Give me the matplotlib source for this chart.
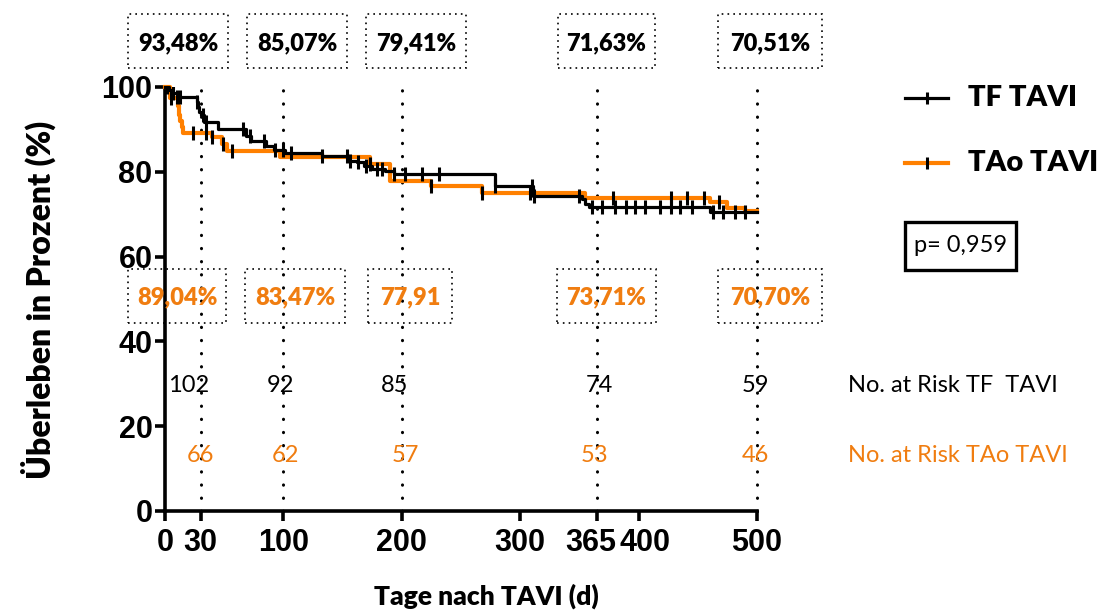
import numpy as np
import matplotlib
matplotlib.use('Agg')
import matplotlib.pyplot as plt
import matplotlib.transforms as mtransforms
from matplotlib.patches import Rectangle
from matplotlib.lines import Line2D

# Kaplan-Meier Überleben nach TAVI, TF vs. TAo
tf_t = [0, 3, 6, 10, 27, 28, 29, 30, 33, 45, 68, 73, 85, 92, 101, 133, 155, 162, 168, 175, 186, 193, 279, 311, 352, 355, 358, 460]
tf_s = [100, 99.2, 98.5, 97.6, 96.5, 95.3, 94.2, 93.48, 91.8, 90.1, 88.5, 87.3, 86.1, 85.07, 84.5, 83.8, 82.6, 82.2, 81.4, 80.7, 80.2, 79.41, 76.7, 74.4, 73.5, 72.5, 71.63, 70.51]
tf_cens = [2, 7, 10, 13, 27, 32, 35, 66, 72, 84, 93, 100, 106, 133, 154, 156, 163, 170, 179, 183, 193,
           203, 217, 231, 279, 310, 312, 350, 361, 369, 380, 389, 397, 405, 418, 427, 435, 445, 463, 471, 481, 490]

tao_t = [0, 4, 11, 12, 13, 14, 15, 40, 48, 52, 97, 173, 190, 225, 268, 355, 460, 475, 490]
tao_s = [100, 97.4, 95.5, 93.5, 92.0, 90.5, 89.04, 88.2, 86.6, 85.0, 83.47, 81.9, 77.91, 76.7, 75.1, 73.71, 72.8, 71.5, 70.70]
tao_cens = [5, 24, 35, 40, 49, 57, 173, 225, 268, 308, 378, 427, 441, 455, 468]

milestones = [30, 100, 200, 365, 500]
tf_lbl = ['93,48%', '85,07%', '79,41%', '71,63%', '70,51%']
tao_lbl = ['89,04%', '83,47%', '77,91', '73,71%', '70,70%']
risk_tf = [102, 92, 85, 74, 59]
risk_tao = [66, 62, 57, 53, 46]

xticks = [0, 30, 100, 200, 300, 365, 400, 500]
yticks = [0, 20, 40, 60, 80, 100]

ORANGE = '#FF8000'
ORANGE_TXT = '#F07D10'
W, H = 1106, 613
tick_font = ['Liberation Sans', 'DejaVu Sans']
lab_font = ['Lato', 'DejaVu Sans']


def fx(px):
    return px / W


def fy(py):
    return 1 - py / H


def km_value(t, s, x):
    idx = np.searchsorted(t, x, side='right') - 1
    return np.asarray(s)[idx]


fig = plt.figure(figsize=(W / 100, H / 100), dpi=100)
ax = fig.add_axes([fx(165), fy(511), fx(757) - fx(165), fy(87) - fy(511)])

# Kurven
ax.step(tf_t + [500], tf_s + [tf_s[-1]], where='post', color='black', lw=2.3, zorder=4, clip_on=False)
ax.step(tao_t + [500], tao_s + [tao_s[-1]], where='post', color=ORANGE, lw=3.0, zorder=3, clip_on=False)
ax.plot(tf_cens, km_value(tf_t, tf_s, tf_cens), ls='none', marker='|', ms=10, mew=2.2, color='black', zorder=5)
ax.plot(tao_cens, km_value(tao_t, tao_s, tao_cens), ls='none', marker='|', ms=10, mew=2.2, color='black', zorder=5)

# gepunktete Linien an den Zeitpunkten
ax.vlines(milestones, 0, 100, colors='black', lw=2.2, linestyles=(0, (0.1, 4.2)),
          capstyle='round', zorder=2, clip_on=False)

ax.set_xlim(0, 500)
ax.set_ylim(0, 100)
ax.set_xticks(xticks)
ax.set_yticks(yticks)
for sp in ['top', 'right']:
    ax.spines[sp].set_visible(False)
for sp in ['left', 'bottom']:
    ax.spines[sp].set_linewidth(2.6)
ax.tick_params(width=2.6, length=7)
ax.tick_params(axis='y', pad=2)
ax.tick_params(axis='x', pad=5)
for lab in ax.get_xticklabels() + ax.get_yticklabels():
    lab.set_fontfamily(tick_font)
    lab.set_fontweight('bold')
    lab.set_fontsize(22)

# 365 und 400 liegen dicht beieinander -> etwas auseinanderschieben
xlabs = ax.get_xticklabels()
for lab, dx in [(xlabs[5], -6), (xlabs[6], 6)]:
    lab.set_transform(lab.get_transform() + mtransforms.ScaledTranslation(dx / 100, 0, fig.dpi_scale_trans))

fig.text(fx(486), fy(596), 'Tage nach TAVI (d)', ha='center', va='center',
         fontsize=19, fontweight='heavy', family=lab_font)
fig.text(fx(38), fy(300), 'Überleben in Prozent (%)', ha='center', va='center', rotation=90,
         fontsize=23, fontweight='heavy', family=lab_font)

# Kästchen mit Überlebensraten
top_boxes = [(128, 228), (247, 347), (366, 466), (558, 655), (718, 822)]
bot_boxes = [(128, 226), (245, 345), (368, 452), (557, 656), (718, 822)]
for (x0, x1), txt in zip(top_boxes, tf_lbl):
    fig.add_artist(Rectangle((fx(x0), fy(68)), fx(x1) - fx(x0), fy(14) - fy(68), transform=fig.transFigure,
                             fill=False, ec='black', lw=1.2, ls=(0, (1, 2.5))))
    fig.text(fx((x0 + x1) / 2), fy(43), txt, ha='center', va='center', fontsize=17,
             fontweight='heavy', family=lab_font)
for (x0, x1), txt in zip(bot_boxes, tao_lbl):
    fig.add_artist(Rectangle((fx(x0), fy(323)), fx(x1) - fx(x0), fy(269) - fy(323), transform=fig.transFigure,
                             fill=False, ec='black', lw=1.2, ls=(0, (1, 2.5)), zorder=1))
    fig.text(fx((x0 + x1) / 2), fy(297), txt, ha='center', va='center', fontsize=17,
             fontweight='heavy', family=lab_font, color=ORANGE_TXT)

# Patienten unter Risiko
tf_px = [189, 280, 395, 599, 755]
tao_px = [200, 285, 405, 595, 755]
for p, n in zip(tf_px, risk_tf):
    fig.text(fx(p), fy(386), str(n), ha='center', va='center', fontsize=17, family=lab_font)
for p, n in zip(tao_px, risk_tao):
    fig.text(fx(p), fy(455), str(n), ha='center', va='center', fontsize=17, family=lab_font, color=ORANGE_TXT)
fig.text(fx(848), fy(386), 'No. at Risk TF  TAVI', ha='left', va='center', fontsize=17, family=lab_font)
fig.text(fx(848), fy(455), 'No. at Risk TAo TAVI', ha='left', va='center', fontsize=17, family=lab_font,
         color=ORANGE_TXT)

# Legende
for yy, col, name, lw in [(98, 'black', 'TF TAVI', 2.3), (163, ORANGE, 'TAo TAVI', 3.0)]:
    fig.add_artist(Line2D([fx(905), fx(948)], [fy(yy), fy(yy)], color=col, lw=lw, transform=fig.transFigure))
    fig.add_artist(Line2D([fx(926.5)], [fy(yy)], marker='|', ms=9, mew=2.2, color='black', transform=fig.transFigure))
    fig.text(fx(968), fy(yy), name, ha='left', va='center', fontsize=21, fontweight='heavy', family=lab_font)

fig.add_artist(Rectangle((fx(905), fy(270)), fx(1016) - fx(905), fy(222) - fy(270), transform=fig.transFigure,
                         fill=False, ec='black', lw=2.4))
fig.text(fx(960.5), fy(246), 'p= 0,959', ha='center', va='center', fontsize=17, family=lab_font)

fig.savefig('out.png', dpi=100)
